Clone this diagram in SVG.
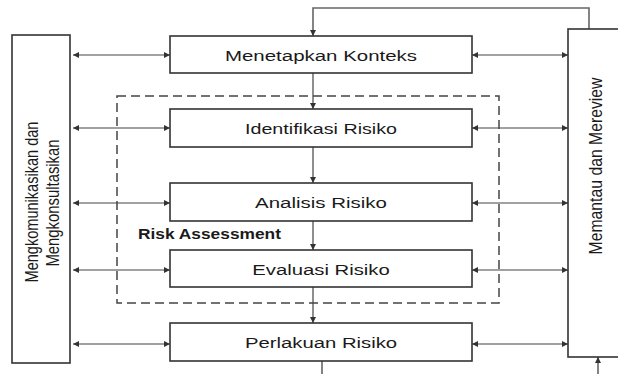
<svg xmlns="http://www.w3.org/2000/svg" width="618" height="374" viewBox="0 0 618 374">
<style>
.box{fill:#fff;stroke:#333;stroke-width:1.6}
.t{font-family:"Liberation Sans",Arial,sans-serif;font-size:15.5px;fill:#1a1a1a;text-anchor:middle}
.v{font-family:"Liberation Sans",Arial,sans-serif;font-size:15px;fill:#1a1a1a;text-anchor:middle}
.b{font-family:"Liberation Sans",Arial,sans-serif;font-size:14px;font-weight:bold;fill:#1a1a1a}
.ln{fill:none;stroke:#444;stroke-width:1.2}
.fb{fill:none;stroke:#666;stroke-width:1.6}
.dash{fill:none;stroke:#444;stroke-width:1.5;stroke-dasharray:9 5}
</style>
<defs>
<marker id="ah" viewBox="0 0 10 10" refX="10" refY="5" markerWidth="7" markerHeight="6" markerUnits="userSpaceOnUse" orient="auto-start-reverse">
<path d="M0,0 L10,5 L0,10 z" fill="#333"/>
</marker>
</defs>
<rect x="0" y="0" width="618" height="374" fill="#fff"/>
<rect class="dash" x="117" y="96" width="382" height="207"/>
<text class="b" transform="translate(138,239) scale(1.24,1)">Risk Assessment</text>
<g id="connectors">
<path class="fb" d="M589,29 V8 H313 V36" marker-end="url(#ah)"/>
<line class="ln" x1="313" y1="73" x2="313" y2="109" marker-end="url(#ah)"/>
<line class="ln" x1="313" y1="147" x2="313" y2="183" marker-end="url(#ah)"/>
<line class="ln" x1="313" y1="221" x2="313" y2="250" marker-end="url(#ah)"/>
<line class="ln" x1="313" y1="287" x2="313" y2="323" marker-end="url(#ah)"/>
<line class="fb" x1="322" y1="361" x2="322" y2="374"/>
<line class="fb" x1="598" y1="374" x2="598" y2="357" marker-end="url(#ah)"/>
<line class="ln" x1="73" y1="55" x2="170" y2="55" marker-start="url(#ah)" marker-end="url(#ah)"/>
<line class="ln" x1="73" y1="128" x2="170" y2="128" marker-start="url(#ah)" marker-end="url(#ah)"/>
<line class="ln" x1="73" y1="203" x2="170" y2="203" marker-start="url(#ah)" marker-end="url(#ah)"/>
<line class="ln" x1="73" y1="270" x2="170" y2="270" marker-start="url(#ah)" marker-end="url(#ah)"/>
<line class="ln" x1="73" y1="344" x2="170" y2="344" marker-start="url(#ah)" marker-end="url(#ah)"/>
<line class="ln" x1="472" y1="55" x2="568" y2="55" marker-start="url(#ah)" marker-end="url(#ah)"/>
<line class="ln" x1="472" y1="128" x2="568" y2="128" marker-start="url(#ah)" marker-end="url(#ah)"/>
<line class="ln" x1="472" y1="203" x2="568" y2="203" marker-start="url(#ah)" marker-end="url(#ah)"/>
<line class="ln" x1="472" y1="270" x2="568" y2="270" marker-start="url(#ah)" marker-end="url(#ah)"/>
<line class="ln" x1="472" y1="344" x2="568" y2="344" marker-start="url(#ah)" marker-end="url(#ah)"/>
</g>
<g id="komunikasi">
<rect class="box" x="12" y="35" width="58" height="328"/>
<text class="v" transform="translate(38,202) rotate(-90) scale(0.97,1.2)">Mengkomunikasikan dan</text>
<text class="v" transform="translate(59,203) rotate(-90) scale(0.99,1.2)">Mengkonsultasikan</text>
</g>
<g id="memantau">
<rect class="box" x="568" y="29" width="70" height="328"/>
<text class="v" transform="translate(602,166) rotate(-90) scale(1.05,1.2)">Memantau dan Mereview</text>
</g>
<g id="konteks">
<rect class="box" x="170" y="36" width="302" height="37"/>
<text class="t" transform="translate(321,61) scale(1.32,1)">Menetapkan Konteks</text>
</g>
<g id="identifikasi">
<rect class="box" x="170" y="109" width="302" height="38"/>
<text class="t" transform="translate(321,134) scale(1.27,1)">Identifikasi Risiko</text>
</g>
<g id="analisis">
<rect class="box" x="170" y="183" width="302" height="38"/>
<text class="t" transform="translate(321,208) scale(1.32,1)">Analisis Risiko</text>
</g>
<g id="evaluasi">
<rect class="box" x="170" y="250" width="302" height="37"/>
<text class="t" transform="translate(321,275) scale(1.31,1)">Evaluasi Risiko</text>
</g>
<g id="perlakuan">
<rect class="box" x="170" y="323" width="302" height="38"/>
<text class="t" transform="translate(321,348) scale(1.31,1)">Perlakuan Risiko</text>
</g>
</svg>
